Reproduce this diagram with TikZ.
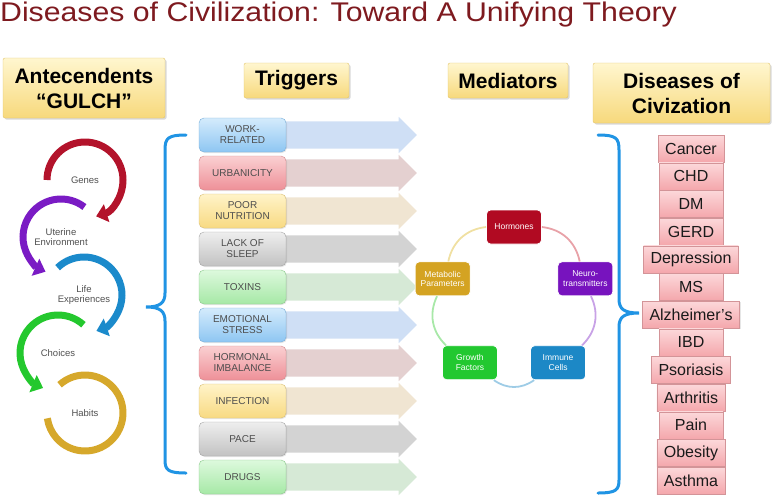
\documentclass[tikz,border=0pt]{standalone}
\usepackage{fontspec}
\setmainfont{Liberation Sans}
\usetikzlibrary{arrows.meta,shapes.arrows,shadows,calc}

\definecolor{titlered}{HTML}{7E1A1F}
\definecolor{hdrtop}{HTML}{FFF6CF}
\definecolor{hdrbot}{HTML}{F7D97C}
\definecolor{hdrline}{HTML}{E2C46A}
\definecolor{tText}{HTML}{4D4D4D}
\definecolor{trigBtop}{HTML}{D4EBFC}\definecolor{trigBbot}{HTML}{8EC6F2}\definecolor{trigBline}{HTML}{78AEDA}
\definecolor{trigRtop}{HTML}{FAD0D2}\definecolor{trigRbot}{HTML}{EE9098}\definecolor{trigRline}{HTML}{D48A8E}
\definecolor{trigYtop}{HTML}{FFF3C8}\definecolor{trigYbot}{HTML}{F8DA82}\definecolor{trigYline}{HTML}{D9BF78}
\definecolor{trigGtop}{HTML}{EEEEEE}\definecolor{trigGbot}{HTML}{C2C2C2}\definecolor{trigGline}{HTML}{A6A6A6}
\definecolor{trigNtop}{HTML}{DDF9DD}\definecolor{trigNbot}{HTML}{A6E8A6}\definecolor{trigNline}{HTML}{8CC88C}
\definecolor{arrB}{HTML}{CFDFF5}\definecolor{arrR}{HTML}{E4D0D0}\definecolor{arrY}{HTML}{F0E5D2}
\definecolor{arrG}{HTML}{D3D3D3}\definecolor{arrN}{HTML}{D6E9D6}
\definecolor{mHor}{HTML}{B10A22}\definecolor{mNeu}{HTML}{7713BE}\definecolor{mImm}{HTML}{1C88C6}
\definecolor{mGro}{HTML}{22C830}\definecolor{mMet}{HTML}{D4A322}
\definecolor{cHor}{HTML}{E8A2A8}\definecolor{cNeu}{HTML}{C8A2E6}\definecolor{cImm}{HTML}{9ECCE6}
\definecolor{cGro}{HTML}{A8E8A8}\definecolor{cMet}{HTML}{F0E0A2}
\definecolor{gRed}{HTML}{B3132B}\definecolor{gPur}{HTML}{7A1BC4}\definecolor{gBlu}{HTML}{1B8ACB}
\definecolor{gGrn}{HTML}{24C82E}\definecolor{gGld}{HTML}{D6A82B}
\definecolor{gText}{HTML}{505050}
\definecolor{dTop}{HTML}{FCD8DA}\definecolor{dBot}{HTML}{F4A7AC}\definecolor{dLine}{HTML}{D39498}
\definecolor{dText}{HTML}{1A1A1A}
\definecolor{braceblue}{HTML}{2094E4}

\tikzset{
  header/.style={draw=hdrline, top color=hdrtop, bottom color=hdrbot, rounded corners=2pt, align=center,
    font=\fontsize{21}{25}\selectfont\bfseries, drop shadow={opacity=0.3,shadow xshift=1.5pt,shadow yshift=-1.5pt}},
  trig/.style={rounded corners=5pt, minimum width=87pt, minimum height=34pt, inner sep=1pt, align=center,
    text=tText, font=\fontsize{10}{11}\selectfont, drop shadow={opacity=0.2,shadow xshift=1pt,shadow yshift=-1pt}},
  tB/.style={draw=trigBline, top color=trigBtop, bottom color=trigBbot},
  tR/.style={draw=trigRline, top color=trigRtop, bottom color=trigRbot},
  tY/.style={draw=trigYline, top color=trigYtop, bottom color=trigYbot},
  tG/.style={draw=trigGline, top color=trigGtop, bottom color=trigGbot},
  tN/.style={draw=trigNline, top color=trigNtop, bottom color=trigNbot},
  trarrow/.style={shape=single arrow, single arrow head extend=4.5pt, minimum height=136pt,
    inner xsep=0pt, inner ysep=13.5pt},
  medbox/.style={rounded corners=4pt, minimum width=55pt, minimum height=34pt, inner sep=1pt, align=center,
    text=white, font=\fontsize{8.5}{9.5}\selectfont, draw=white, line width=0.8pt},
  medarc/.style={line width=1.8pt},
  disbox/.style={draw=dLine, top color=dTop, bottom color=dBot, minimum width=64pt, minimum height=27pt,
    inner xsep=7pt, inner ysep=0pt, text=dText, font=\fontsize{16}{18}\selectfont,
    drop shadow={opacity=0.2,shadow xshift=1pt,shadow yshift=-1pt}},
  ring/.style={line width=7pt},
  ringtip/.style={-{Triangle[width=18pt,length=11pt]}},
  ringlabel/.style={align=center, text=gText, font=\fontsize{9.5}{10.5}\selectfont},
  bracket/.style={draw=braceblue, line width=3pt, line cap=round},
}

\begin{document}
\begin{tikzpicture}[x=1pt,y=-1pt]
\useasboundingbox (0,0) rectangle (773,496);

\node[anchor=base west, inner sep=0pt, text=titlered, font=\fontsize{27}{30}\selectfont] (title) at (0,21)
  {\scalebox{1.12}[1]{Diseases of Civilization: Toward A Unifying Theory}};

% column headers
\node[header, minimum width=162pt, minimum height=60pt] (hant) at (84,88) {Antecendents\\“GULCH”};
\node[header, minimum width=105pt, minimum height=35pt] (htrig) at (296.5,80.5) {Triggers};
\node[header, minimum width=120pt, minimum height=35pt] (hmed) at (508,80.5) {Mediators};
\node[header, minimum width=177pt, minimum height=60pt] (hdis) at (681.5,93) {Diseases of\\Civization};

% GULCH rings
\node[ringlabel] (genes) at (85,180) {Genes};
\node[ringlabel] (uterine) at (61,237) {Uterine\\Environment};
\node[ringlabel] (life) at (84,295) {Life\\Experiences};
\node[ringlabel] (choices) at (58,353) {Choices};
\node[ringlabel] (habits) at (85,413) {Habits};

\draw[ring,ringtip,gRed] (genes.center) ++(180:38) arc[start angle=180, end angle=433, radius=38];
\draw[ring,ringtip,gPur] (uterine.center) ++(-52:38) arc[start angle=-52, end angle=-246, radius=38];
\draw[ring,ringtip,gBlu] (life.center) ++(-134:38) arc[start angle=-134, end angle=71, radius=38];
\draw[ring,ringtip,gGrn] (choices.center) ++(-48:38) arc[start angle=-48, end angle=-247, radius=38];
\draw[ring,gGld] (habits.center) ++(-132:38) arc[start angle=-132, end angle=172, radius=38];

% braces
\draw[bracket] (186,135) .. controls (168,135) and (165,138) .. (165,150) -- (165,293)
  .. controls (165,303) and (160,307) .. (146,307) .. controls (160,307) and (165,311) .. (165,321)
  -- (165,460) .. controls (165,470) and (168,473) .. (186,473); % left
\draw[bracket] (598,135) .. controls (616,135) and (619,138) .. (619,150) -- (619,299)
  .. controls (619,309) and (624,313) .. (639,313) .. controls (624,313) and (619,317) .. (619,327)
  -- (619,480) .. controls (619,490) and (616,493) .. (598,493); % right

% trigger arrows
\node[trarrow, fill=arrB] (a1) at (342,135) {};
\node[trarrow, fill=arrR] (a2) at (342,173) {};
\node[trarrow, fill=arrY] (a3) at (342,211) {};
\node[trarrow, fill=arrG] (a4) at (342,249) {};
\node[trarrow, fill=arrN] (a5) at (342,287) {};
\node[trarrow, fill=arrB] (a6) at (342,325) {};
\node[trarrow, fill=arrR] (a7) at (342,363) {};
\node[trarrow, fill=arrY] (a8) at (342,401) {};
\node[trarrow, fill=arrG] (a9) at (342,439) {};
\node[trarrow, fill=arrN] (a10) at (342,477) {};

% triggers
\node[trig, tB] (t1) at (242.5,135) {WORK-\\RELATED};
\node[trig, tR] (t2) at (242.5,173) {URBANICITY};
\node[trig, tY] (t3) at (242.5,211) {POOR\\NUTRITION};
\node[trig, tG] (t4) at (242.5,249) {LACK OF\\SLEEP};
\node[trig, tN] (t5) at (242.5,287) {TOXINS};
\node[trig, tB] (t6) at (242.5,325) {EMOTIONAL\\STRESS};
\node[trig, tR] (t7) at (242.5,363) {HORMONAL\\IMBALANCE};
\node[trig, tY] (t8) at (242.5,401) {INFECTION};
\node[trig, tG] (t9) at (242.5,439) {PACE};
\node[trig, tN] (t10) at (242.5,477) {DRUGS};

% mediators
\coordinate (mc) at (514,302);
\node[medbox, fill=mHor] (hor) at ($(mc)+(-90:75)$) {Hormones};
\node[medbox, fill=mNeu] (neu) at ($(mc)+(-18:75)$) {Neuro-\\transmitters};
\node[medbox, fill=mImm] (imm) at ($(mc)+(54:75)$) {Immune\\Cells};
\node[medbox, fill=mGro] (gro) at ($(mc)+(126:75)$) {Growth\\Factors};
\node[medbox, fill=mMet] (met) at ($(mc)+(198:75)$) {Metabolic\\Parameters};
\draw[medarc, cHor] (hor) to[bend left=36] (neu);
\draw[medarc, cNeu] (neu) to[bend left=36] (imm);
\draw[medarc, cImm] (imm) to[bend left=36] (gro);
\draw[medarc, cGro] (gro) to[bend left=36] (met);
\draw[medarc, cMet] (met) to[bend left=36] (hor);

% diseases
\node[disbox] (d1) at (691,148.5) {Cancer};
\node[disbox] (d2) at (691,176.2) {CHD};
\node[disbox] (d3) at (691,203.8) {DM};
\node[disbox] (d4) at (691,231.5) {GERD};
\node[disbox] (d5) at (691,259.2) {Depression};
\node[disbox] (d6) at (691,286.8) {MS};
\node[disbox] (d7) at (691,314.5) {Alzheimer’s};
\node[disbox] (d8) at (691,342.2) {IBD};
\node[disbox] (d9) at (691,369.9) {Psoriasis};
\node[disbox] (d10) at (691,397.5) {Arthritis};
\node[disbox] (d11) at (691,425.2) {Pain};
\node[disbox] (d12) at (691,452.9) {Obesity};
\node[disbox] (d13) at (691,480.5) {Asthma};

\end{tikzpicture}
\end{document}
